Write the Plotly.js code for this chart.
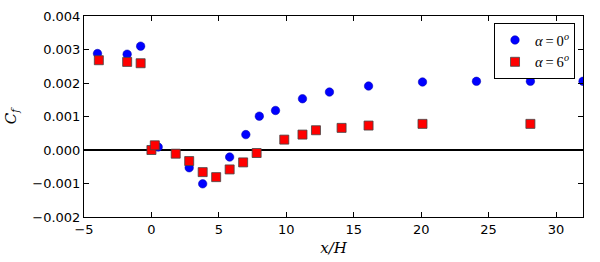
<!DOCTYPE html>
<html>
<head>
<meta charset="utf-8">
<script src="https://cdn.plot.ly/plotly-3.0.1.min.js"></script>
<style>html,body{margin:0;padding:0;background:#fff;}#chart{width:600px;height:262px;}</style>
</head>
<body>
<div id="chart"></div>
<script>
// Series alpha = 0 deg
const x0 = [-4.0, -1.8, -0.8, 0.5, 2.8, 3.8, 5.8, 7.0, 8.0, 9.2, 11.2, 13.2, 16.1, 20.1, 24.1, 28.1, 32.0];
const cf0 = [0.00288, 0.00286, 0.00310, 0.00009, -0.00053, -0.00101, -0.00021, 0.00046, 0.00101, 0.00118, 0.00153, 0.00173, 0.00191, 0.00203, 0.00205, 0.00205, 0.00205];
// Series alpha = 6 deg
const x6 = [-3.9, -1.8, -0.8, 0.0, 0.25, 1.8, 2.8, 3.8, 4.8, 5.8, 6.8, 7.8, 9.85, 11.2, 12.2, 14.1, 16.1, 20.1, 28.1];
const cf6 = [0.00268, 0.00263, 0.00259, 0.0, 0.00014, -0.00011, -0.00033, -0.00066, -0.00081, -0.00058, -0.00037, -0.00009, 0.00031, 0.00046, 0.00059, 0.00066, 0.00073, 0.00078, 0.00078];
const xTicks = [-5, 0, 5, 10, 15, 20, 25, 30];
const yTicks = [-0.002, -0.001, 0.000, 0.001, 0.002, 0.003, 0.004];
const yTickText = ['\u22120.002', '\u22120.001', '0.000', '0.001', '0.002', '0.003', '0.004'];
const names = ['<i>α</i>\u2009=\u20090<sup><i>o</i></sup>', '<i>α</i>\u2009=\u20096<sup><i>o</i></sup>'];

const traces = [
  {x: x0, y: cf0, type: 'scatter', mode: 'markers', name: names[0], cliponaxis: true,
   marker: {symbol: 'circle', size: 8.5, color: '#0000ff', line: {color: '#0000aa', width: 0.5}}},
  {x: x6, y: cf6, type: 'scatter', mode: 'markers', name: names[1], cliponaxis: true,
   marker: {symbol: 'square', size: 9, color: '#ff0000', line: {color: '#444', width: 0.8}}}
];
const axisCommon = {
  showgrid: false, showline: true, linecolor: '#000', linewidth: 1, mirror: 'ticks',
  ticks: 'inside', ticklen: 5, tickcolor: '#000', tickwidth: 1,
  tickfont: {family: 'DejaVu Sans', size: 13, color: '#000'}
};
const layout = {
  width: 600, height: 262,
  margin: {l: 84, r: 17, t: 16, b: 45},
  paper_bgcolor: '#fff', plot_bgcolor: '#fff',
  showlegend: true,
  legend: {x: 0.984, y: 0.965, xanchor: 'right', yanchor: 'top', bgcolor: '#fff',
           bordercolor: '#000', borderwidth: 1,
           font: {family: 'Liberation Serif', size: 14.5, color: '#000'}, tracegroupgap: 0, itemwidth: 30},
  xaxis: Object.assign({}, axisCommon, {range: [-5, 32], tickvals: xTicks, zeroline: false,
    title: {text: '<i>x/H</i>', font: {family: 'DejaVu Serif', size: 15, color: '#000'}, standoff: 6}}),
  yaxis: Object.assign({}, axisCommon, {range: [-0.002, 0.004], tickvals: yTicks, ticktext: yTickText,
    zeroline: true, zerolinecolor: '#000', zerolinewidth: 1.2,
    title: {text: '<i>C<sub>f</sub></i>', font: {family: 'DejaVu Serif', size: 15, color: '#000'}, standoff: 12}})
};
Plotly.newPlot('chart', traces, layout, {displayModeBar: false, staticPlot: true});
</script>
</body>
</html>
